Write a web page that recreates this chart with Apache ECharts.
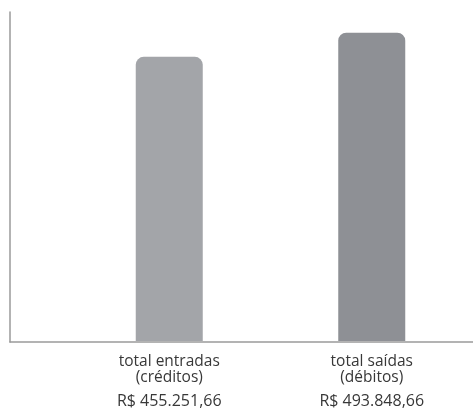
<!DOCTYPE html>
<html>
<head>
<meta charset="utf-8">
<script src="https://cdn.jsdelivr.net/npm/echarts@6/dist/echarts.min.js"></script>
<style>
html,body{margin:0;padding:0;background:#fff;}
#chart{width:473px;height:418px;}
</style>
</head>
<body>
<div id="chart"></div>
<script>
var categories = ['total entradas\n(créditos)', 'total saídas\n(débitos)'];
var values = [455251.66, 493848.66];
var barColors = ['#a3a5a9', '#8e9095'];

function brl(v) {
  var parts = v.toFixed(2).split('.');
  var intPart = parts[0].replace(/\B(?=(\d{3})+(?!\d))/g, '.');
  return 'R$ ' + intPart + ',' + parts[1];
}

var chart = echarts.init(document.getElementById('chart'));
chart.setOption({
  animation: false,
  backgroundColor: '#ffffff',
  grid: [
    { left: 68, width: 410, top: 12, bottom: 77 },
    { left: 10, right: 0, top: 12, bottom: 76 }
  ],
  xAxis: [
    {
      type: 'category',
      gridIndex: 0,
      data: categories,
      axisLine: { show: false },
      axisTick: { show: false },
      axisLabel: {
        margin: 13,
        fontFamily: 'Open Sans',
        color: '#3a3a3a',
        formatter: function (val, idx) {
          var lines = val.split('\n');
          return '{a|' + lines[0] + '}\n{a|' + lines[1] + '}\n{v|' + brl(values[idx]) + '}';
        },
        rich: {
          a: { fontFamily: 'Open Sans', fontSize: 15.5, lineHeight: 16, color: '#383838' },
          v: { fontFamily: 'Open Sans', fontSize: 16, lineHeight: 30, color: '#383838' }
        }
      }
    },
    {
      type: 'value',
      gridIndex: 1,
      position: 'bottom',
      axisLine: { show: true, onZero: false, lineStyle: { color: '#9a9a9a', width: 1.5 } },
      axisTick: { show: false },
      axisLabel: { show: false },
      splitLine: { show: false }
    }
  ],
  yAxis: [
    {
      type: 'value',
      gridIndex: 0,
      min: 0,
      max: 527000,
      axisLine: { show: false },
      axisTick: { show: false },
      axisLabel: { show: false },
      splitLine: { show: false }
    },
    {
      type: 'value',
      gridIndex: 1,
      position: 'left',
      axisLine: { show: true, onZero: false, lineStyle: { color: '#9a9a9a', width: 1.5 } },
      axisTick: { show: false },
      axisLabel: { show: false },
      splitLine: { show: false }
    }
  ],
  series: [{
    type: 'bar',
    xAxisIndex: 0,
    yAxisIndex: 0,
    barWidth: 67,
    data: values.map(function (v, i) {
      return { value: v, itemStyle: { color: barColors[i] } };
    }),
    itemStyle: { borderRadius: [8, 8, 0, 0] }
  }]
});
</script>
</body>
</html>
